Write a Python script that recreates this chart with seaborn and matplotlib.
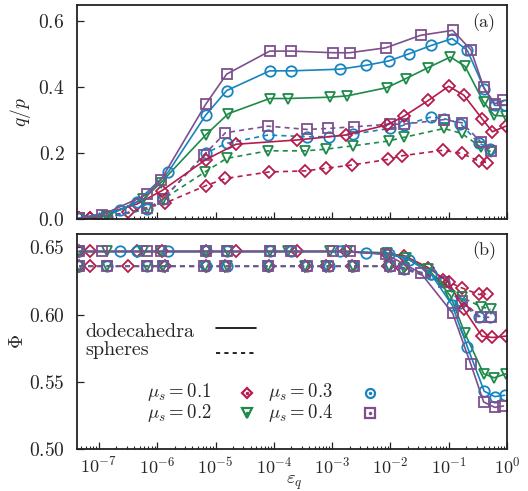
import numpy as np
import pandas as pd
import matplotlib
matplotlib.use("Agg")
import matplotlib.pyplot as plt
from matplotlib.ticker import FuncFormatter, LogLocator, LogFormatterSciNotation, NullFormatter, FixedLocator
import seaborn as sns

# ---------------- data ----------------
mu_values = [0.1, 0.2, 0.3, 0.4]
colors = ["#b51c4c", "#1e8a4a", "#1684c0", "#7e4f8d"]
markers = ["D", "v", "o", "s"]

# dodecahedra
dod_eps_01 = [4.57e-8, 7.08e-8, 4.47e-7, 1.20e-6, 6.76e-6, 2.24e-5, 2.51e-4, 1.70e-3, 8.8e-3, 1.70e-2, 4.47e-2, 0.100, 0.182, 0.372, 0.562, 0.955]
dod_qp_01 = [0.002, 0.003, 0.045, 0.086, 0.180, 0.227, 0.240, 0.255, 0.286, 0.312, 0.360, 0.403, 0.376, 0.305, 0.265, 0.282]
dod_phi_01 = [0.647, 0.647, 0.647, 0.647, 0.647, 0.647, 0.647, 0.647, 0.645, 0.644, 0.635, 0.624, 0.604, 0.584, 0.583, 0.584]

dod_eps_02 = [4.57e-8, 1.38e-7, 5.75e-7, 1.15e-6, 6.76e-6, 1.66e-5, 8.51e-5, 1.74e-4, 9.33e-4, 1.82e-3, 8.71e-3, 1.82e-2, 4.47e-2, 0.107, 0.190, 0.398, 0.603, 0.955]
dod_qp_02 = [0.003, 0.010, 0.060, 0.110, 0.255, 0.320, 0.366, 0.366, 0.370, 0.374, 0.399, 0.426, 0.460, 0.492, 0.464, 0.355, 0.315, 0.312]
dod_phi_02 = [0.647, 0.647, 0.647, 0.647, 0.647, 0.647, 0.647, 0.647, 0.647, 0.647, 0.646, 0.642, 0.634, 0.614, 0.586, 0.556, 0.553, 0.556]

dod_eps_03 = [4.57e-8, 2.29e-7, 4.47e-7, 1.55e-6, 6.76e-6, 1.55e-5, 8.51e-5, 2.00e-4, 1.35e-3, 3.89e-3, 9.33e-3, 2.09e-2, 5.01e-2, 0.115, 0.209, 0.407, 0.617, 0.912]
dod_qp_03 = [0.003, 0.027, 0.052, 0.143, 0.315, 0.390, 0.450, 0.450, 0.455, 0.467, 0.480, 0.502, 0.527, 0.548, 0.512, 0.396, 0.345, 0.345]
dod_phi_03 = [0.647, 0.647, 0.647, 0.647, 0.647, 0.647, 0.647, 0.647, 0.647, 0.646, 0.645, 0.641, 0.630, 0.607, 0.576, 0.543, 0.539, 0.540]

dod_eps_04 = [4.57e-8, 1.12e-7, 6.76e-7, 1.15e-6, 6.76e-6, 1.55e-5, 8.51e-5, 2.00e-4, 1.05e-3, 2.00e-3, 8.32e-3, 3.31e-2, 0.117, 0.240, 0.398, 0.617, 0.871]
dod_qp_04 = [0.002, 0.012, 0.075, 0.118, 0.348, 0.440, 0.510, 0.510, 0.505, 0.505, 0.520, 0.558, 0.573, 0.514, 0.400, 0.350, 0.360]
dod_phi_04 = [0.647, 0.647, 0.647, 0.647, 0.647, 0.647, 0.647, 0.647, 0.647, 0.647, 0.645, 0.631, 0.601, 0.563, 0.535, 0.531, 0.532]

# spheres
sph_eps_01 = [4.57e-8, 7.08e-8, 3.16e-7, 1.35e-6, 6.76e-6, 1.48e-5, 8.32e-5, 3.39e-4, 7.76e-4, 2.19e-3, 9.12e-3, 1.58e-2, 8.13e-2, 0.166, 0.331, 0.457]
sph_qp_01 = [0.002, 0.003, 0.020, 0.048, 0.101, 0.123, 0.143, 0.146, 0.154, 0.164, 0.181, 0.192, 0.209, 0.199, 0.176, 0.171]
sph_phi_01 = [0.636, 0.636, 0.636, 0.636, 0.636, 0.636, 0.636, 0.636, 0.636, 0.636, 0.636, 0.635, 0.626, 0.620, 0.615, 0.615]

sph_eps_02 = [4.57e-8, 1.38e-7, 6.76e-7, 1.26e-6, 6.61e-6, 1.55e-5, 7.94e-5, 3.47e-4, 7.76e-4, 2.24e-3, 9.33e-3, 1.70e-2, 8.32e-2, 0.166, 0.355, 0.525]
sph_qp_02 = [0.002, 0.005, 0.030, 0.060, 0.143, 0.184, 0.207, 0.207, 0.212, 0.222, 0.237, 0.248, 0.275, 0.260, 0.219, 0.205]
sph_phi_02 = [0.636, 0.636, 0.636, 0.636, 0.636, 0.636, 0.636, 0.636, 0.636, 0.636, 0.636, 0.635, 0.624, 0.613, 0.606, 0.604]

sph_eps_03 = [4.57e-8, 1.38e-7, 6.76e-7, 1.26e-6, 6.76e-6, 1.55e-5, 7.94e-5, 3.72e-4, 8.71e-4, 2.29e-3, 9.77e-3, 1.74e-2, 5.01e-2, 8.32e-2, 0.158, 0.331, 0.513]
sph_qp_03 = [0.002, 0.005, 0.030, 0.060, 0.200, 0.230, 0.255, 0.250, 0.250, 0.258, 0.275, 0.285, 0.310, 0.305, 0.290, 0.230, 0.214]
sph_phi_03 = [0.636, 0.636, 0.636, 0.636, 0.636, 0.636, 0.636, 0.636, 0.636, 0.636, 0.636, 0.634, 0.630, 0.624, 0.609, 0.598, 0.598]

sph_eps_04 = [4.57e-8, 1.38e-7, 6.76e-7, 1.26e-6, 6.31e-6, 1.48e-5, 7.94e-5, 3.72e-4, 8.51e-4, 2.34e-3, 1.00e-2, 1.70e-2, 8.32e-2, 0.170, 0.355, 0.525]
sph_qp_04 = [0.002, 0.005, 0.032, 0.060, 0.194, 0.262, 0.282, 0.272, 0.275, 0.280, 0.288, 0.288, 0.302, 0.292, 0.234, 0.207]
sph_phi_04 = [0.636, 0.636, 0.636, 0.636, 0.636, 0.636, 0.636, 0.636, 0.636, 0.636, 0.636, 0.634, 0.624, 0.610, 0.598, 0.598]

dod_eps = [dod_eps_01, dod_eps_02, dod_eps_03, dod_eps_04]
dod_qp = [dod_qp_01, dod_qp_02, dod_qp_03, dod_qp_04]
dod_phi = [dod_phi_01, dod_phi_02, dod_phi_03, dod_phi_04]
sph_eps = [sph_eps_01, sph_eps_02, sph_eps_03, sph_eps_04]
sph_qp = [sph_qp_01, sph_qp_02, sph_qp_03, sph_qp_04]
sph_phi = [sph_phi_01, sph_phi_02, sph_phi_03, sph_phi_04]

qp_ticks = [0.0, 0.2, 0.4, 0.6]
phi_ticks = [0.50, 0.55, 0.60, 0.65]

# ---------------- style ----------------
sns.set_style("ticks")
plt.rcParams["font.family"] = "cmr10"
plt.rcParams["mathtext.fontset"] = "cm"
plt.rcParams["axes.formatter.use_mathtext"] = True
plt.rcParams["axes.unicode_minus"] = False

FS = 13
msizes = {"D": 6, "v": 7.5, "o": 7.5, "s": 7.5}
dash_style = (0, (3, 2.5))

fig = plt.figure(figsize=(5.28, 4.91), dpi=100)
ax1 = fig.add_axes([0.1458, 0.5540, 0.8144, 0.4358])
ax2 = fig.add_axes([0.1458, 0.0855, 0.8144, 0.4379])


def draw(ax, xs, ys, color, marker, ls):
    df = pd.DataFrame({"x": xs, "y": ys})
    sns.lineplot(data=df, x="x", y="y", ax=ax, color=color, marker=marker,
                 markersize=msizes[marker], markerfacecolor="none",
                 markeredgecolor=color, markeredgewidth=1.3, linewidth=1.2,
                 linestyle=ls, errorbar=None, sort=True)


for i in range(4):
    draw(ax1, sph_eps[i], sph_qp[i], colors[i], markers[i], dash_style)
    draw(ax2, sph_eps[i], sph_phi[i], colors[i], markers[i], dash_style)
for i in range(4):
    draw(ax1, dod_eps[i], dod_qp[i], colors[i], markers[i], "-")
    draw(ax2, dod_eps[i], dod_phi[i], colors[i], markers[i], "-")

for ax in (ax1, ax2):
    ax.set_xscale("log")
    ax.set_xlim(4.2e-8, 1.0)
    ax.xaxis.set_major_locator(FixedLocator([1e-7, 1e-6, 1e-5, 1e-4, 1e-3, 1e-2, 1e-1, 1e0]))
    ax.xaxis.set_minor_locator(LogLocator(base=10, subs=np.arange(2, 10), numticks=20))
    ax.tick_params(axis="both", which="both", direction="in", top=False, right=False,
                   labelsize=FS, color="#222222")
    ax.tick_params(axis="y", which="major", labelsize=14)
    ax.tick_params(axis="both", which="major", length=5, width=0.9)
    ax.tick_params(axis="x", which="minor", length=2.5, width=0.8)
    ax.tick_params(axis="y", which="major", pad=9)
    ax.tick_params(axis="x", which="major", pad=5)
    for sp in ax.spines.values():
        sp.set_linewidth(1.3)
        sp.set_color("#222222")
    ax.set_xlabel("")
    ax.set_ylabel("")

ax1.set_ylim(0.0, 0.65)
ax1.yaxis.set_major_locator(FixedLocator(qp_ticks))
ax1.yaxis.set_major_formatter(FuncFormatter(lambda v, p: f"${v:.1f}$"))
ax1.xaxis.set_major_formatter(NullFormatter())
ax1.xaxis.set_minor_formatter(NullFormatter())

ax2.set_ylim(0.50, 0.66)
ax2.yaxis.set_major_locator(FixedLocator(phi_ticks))
ax2.yaxis.set_major_formatter(FuncFormatter(lambda v, p: f"${v:.2f}$"))
ax2.xaxis.set_major_formatter(LogFormatterSciNotation())
ax2.xaxis.set_minor_formatter(NullFormatter())

ax1.set_ylabel(r"$q/p$", fontsize=14)
ax1.yaxis.set_label_coords(-0.102, 0.5)
ax2.set_ylabel(r"$\Phi$", fontsize=14)
ax2.yaxis.set_label_coords(-0.116, 0.5)
ax2.set_xlabel(r"$\varepsilon_q$", fontsize=13.5)
ax2.xaxis.set_label_coords(0.505, -0.114)

ax1.text(0.947, 0.916, "(a)", transform=ax1.transAxes, ha="center", va="center", fontsize=FS)
ax2.text(0.947, 0.921, "(b)", transform=ax2.transAxes, ha="center", va="center", fontsize=FS)

# legend: particle shape
ax2.text(0.0186, 0.522, "dodecahedra", transform=ax2.transAxes, ha="left", va="baseline", fontsize=14.5)
ax2.text(0.0186, 0.437, "spheres", transform=ax2.transAxes, ha="left", va="baseline", fontsize=14.5)
ax2.plot([0.323, 0.416], [0.564, 0.564], transform=ax2.transAxes, color="black", lw=1.2)
ax2.plot([0.323, 0.416], [0.447, 0.447], transform=ax2.transAxes, color="black", lw=1.2,
         linestyle=(0, (2.5, 2.5)))

# legend: friction
leg_tx = [0.163, 0.163, 0.444, 0.444]
leg_ty = [0.243, 0.146, 0.243, 0.146]
leg_mx = [0.395, 0.395, 0.681, 0.681]
leg_my = [0.259, 0.167, 0.259, 0.167]
leg_ms = {"D": 5.5, "v": 6.5, "o": 6.5, "s": 6.5}
for i in range(4):
    ax2.text(leg_tx[i], leg_ty[i], rf"$\mu_s = {mu_values[i]}$", transform=ax2.transAxes,
             ha="left", va="baseline", fontsize=13.5)
    ax2.plot([leg_mx[i]], [leg_my[i]], transform=ax2.transAxes, marker=markers[i],
             markersize=leg_ms[markers[i]], markerfacecolor="none",
             markeredgecolor=colors[i], markeredgewidth=1.6, linestyle="none")
    ax2.plot([leg_mx[i]], [leg_my[i]], transform=ax2.transAxes, marker="o",
             markersize=1.5, markerfacecolor=colors[i], markeredgecolor=colors[i],
             linestyle="none")

fig.savefig("out.png", dpi=100)
